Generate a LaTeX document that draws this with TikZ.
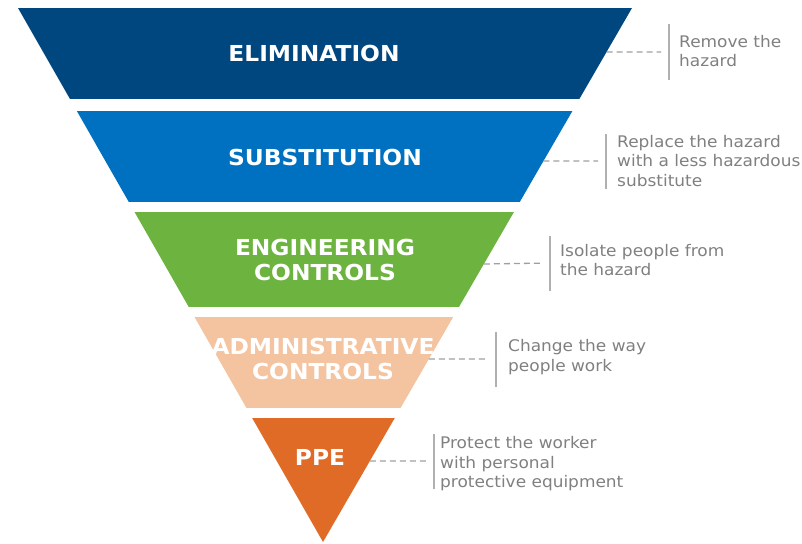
\documentclass[tikz,border=0pt]{standalone}
\usepackage{fontspec}
\setmainfont[FakeStretch=1.06]{DejaVu Sans}
\usetikzlibrary{calc}
\definecolor{celim}{HTML}{00467F}
\definecolor{csubs}{HTML}{0070C0}
\definecolor{ceng}{HTML}{6DB33F}
\definecolor{cadm}{HTML}{F4C4A0}
\definecolor{cppe}{HTML}{E06B27}
\definecolor{cdesc}{HTML}{808080}
\definecolor{cdash}{HTML}{A0A0A0}
\definecolor{cbar}{HTML}{B0B0B0}
\begin{document}
\begin{tikzpicture}[x=1pt,y=-1pt,
  band/.style={font=\fontsize{22}{25}\selectfont\bfseries, text=white, align=center, inner sep=0pt},
  desc/.style={font=\fontsize{16}{19.5}\selectfont, text=cdesc, align=left, anchor=west, inner sep=0pt},
  leader/.style={draw=cdash, line width=1.3pt, dash pattern=on 6pt off 4pt, shorten >=8pt},
  barline/.style={fill=cbar, draw=none, minimum width=2pt, minimum height=55pt, inner sep=0pt}]
\useasboundingbox (0,0) rectangle (802,543);
\coordinate (TL) at (18,8);
\coordinate (TR) at (632,8);
\coordinate (AP) at (323,542);
% bands
\begin{scope}
  \clip (TL) -- (TR) -- (AP) -- cycle;
  \fill[celim] (0,8) rectangle (802,99);
  \fill[csubs] (0,111) rectangle (802,202);
  \fill[ceng] (0,212) rectangle (802,307);
  \fill[cadm] (0,317) rectangle (802,408);
  \fill[cppe] (0,418) rectangle (802,543);
\end{scope}
% band labels
\node[band] (l1) at (314,53) {ELIMINATION};
\node[band] (l2) at (325,157) {SUBSTITUTION};
\node[band] (l3) at (325,259.5) {ENGINEERING\\CONTROLS};
\node[band] (l4) at (323,358.5) {ADMINISTRATIVE\\CONTROLS};
\node[band] (l5) at (320,457) {PPE};
% edge points
\coordinate (e1) at ($(TR)!{(52-8)/534}!(AP)$);
\coordinate (e2) at ($(TR)!{(161-8)/534}!(AP)$);
\coordinate (e3) at ($(TR)!{(264-8)/534}!(AP)$);
\coordinate (e4) at ($(TR)!{(359-8)/534}!(AP)$);
\coordinate (e5) at ($(TR)!{(461-8)/534}!(AP)$);
% bars
\node[barline] (b1) at (669,52) {};
\node[barline] (b2) at (606,161) {};
\node[barline] (b3) at (550,263) {};
\node[barline] (b4) at (496,359) {};
\node[barline] (b5) at (434,461) {};
% leaders
\draw[leader] (e1) -- (b1.center);
\draw[leader] (e2) -- (b2.center);
\draw[leader] (e3) -- (b3.center);
\draw[leader] (e4) -- (b4.center);
\draw[leader] (e5) -- (b5.center);
% descriptions
\node[desc] (d1) at (679,51) {Remove the\\hazard};
\node[desc] (d2) at (617,161) {Replace the hazard\\with a less hazardous\\substitute};
\node[desc] (d3) at (560,260) {Isolate people from\\the hazard};
\node[desc] (d4) at (508,357) {Change the way\\people work};
\node[desc] (d5) at (440,464) {Protect the worker\\with personal\\protective equipment};
\end{tikzpicture}
\end{document}
